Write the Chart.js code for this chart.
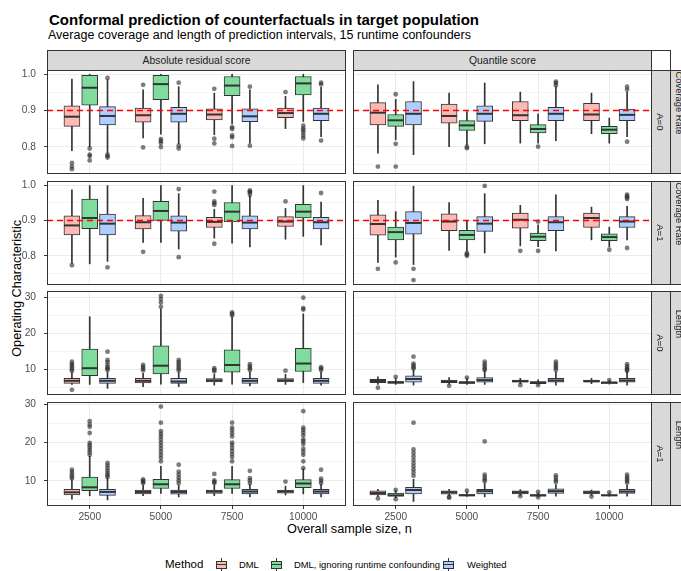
<!DOCTYPE html>
<html>
<head>
<meta charset="utf-8">
<script src="https://cdn.jsdelivr.net/npm/chart.js@4.4.0/dist/chart.umd.min.js"></script>
<style>
body{margin:0;width:681px;height:571px;overflow:hidden;background:#fff;position:relative;font-family:"Liberation Sans",Arial,sans-serif;color:#000}
canvas{position:absolute}
.txt{position:absolute;white-space:nowrap;line-height:1}
.strip{position:absolute;box-sizing:border-box;background:#D9D9D9;border:1px solid #333;color:#1A1A1A;font-size:10.4px;display:flex;align-items:center;justify-content:center;white-space:nowrap;overflow:hidden}
.rot{transform:rotate(90deg);line-height:1}
.key{position:absolute;width:11px;height:14px}
.key .w{position:absolute;left:5px;width:1px;height:14px;top:0;background:#333}
.key .b{position:absolute;left:0;top:3px;width:11px;height:8px;box-sizing:border-box;border:1px solid #333}
.key .m{position:absolute;left:0;top:6.5px;width:11px;height:1px;background:#333}
</style>
</head>
<body>
<div class="txt" style="left:49px;top:11.8px;font-size:15px;font-weight:bold">Conformal prediction of counterfactuals in target population</div>
<div class="txt" style="left:48px;top:28.5px;font-size:12.5px">Average coverage and length of prediction intervals, 15 runtime confounders</div>

<div class="strip" style="left:47px;top:50px;width:299px;height:21px">Absolute residual score</div>
<div class="strip" style="left:353px;top:50px;width:299px;height:21px">Quantile score</div>
<div style="position:absolute;left:651px;top:50px;width:20px;height:21px;box-sizing:border-box;border:1px solid #333"></div>

<div class="txt" style="left:-53px;top:281.6px;width:140px;text-align:center;font-size:12.7px;transform:rotate(-90deg)">Operating Characteristic</div>
<div class="txt" style="left:249.5px;top:522.8px;width:200px;text-align:center;font-size:12.7px">Overall sample size, n</div>

<div id="legend"></div>

<script>
// sample sizes on the x axis
const sampleSizes = ['2500', '5000', '7500', '10000'];
const methods = ['DML', 'DML, ignoring runtime confounding', 'Weighted'];
const targetCoverage = 0.9;

// each row: [lower whisker, Q1, median, Q3, upper whisker] for n = 2500, 5000, 7500, 10000
// order of blocks: DML, DML ignoring runtime confounding, Weighted

// Coverage Rate, A=0, absolute residual score
const covA0Abs = [
  [[0.789, 0.856, 0.883, 0.913, 0.987], [0.824, 0.868, 0.887, 0.907, 0.957], [0.833, 0.874, 0.889, 0.905, 0.948], [0.850, 0.880, 0.893, 0.907, 0.939]],
  [[0.800, 0.915, 0.963, 0.997, 1.000], [0.835, 0.930, 0.973, 0.997, 1.000], [0.863, 0.941, 0.969, 0.994, 1.000], [0.870, 0.943, 0.975, 0.994, 1.000]],
  [[0.782, 0.860, 0.885, 0.911, 0.985], [0.808, 0.868, 0.891, 0.909, 0.966], [0.810, 0.869, 0.884, 0.905, 0.957], [0.828, 0.872, 0.891, 0.907, 0.964]]
];
const covA0AbsOut = [
  [[0.755, 0.745, 0.738], [0.971, 0.798], [0.960, 0.822, 0.809], [0.951]],
  [[0.795, 0.778, 0.774, 0.762], [0.821, 0.816, 0.810, 0.799], [0.854, 0.849, 0.831, 0.826, 0.802], [0.858, 0.850, 0.845, 0.838, 0.830, 0.823]],
  [[0.990, 0.778, 0.774, 0.770], [0.977, 0.803, 0.795], [0.966, 0.803], [0.977, 0.972, 0.817]]
];

// Coverage Rate, A=0, quantile score
const covA0Qnt = [
  [[0.782, 0.860, 0.894, 0.922, 0.971], [0.800, 0.865, 0.885, 0.918, 0.948], [0.810, 0.872, 0.887, 0.925, 0.951], [0.836, 0.872, 0.889, 0.920, 0.948]],
  [[0.819, 0.856, 0.873, 0.889, 0.931], [0.805, 0.845, 0.859, 0.872, 0.897], [0.810, 0.838, 0.849, 0.861, 0.891], [0.810, 0.836, 0.847, 0.856, 0.879]],
  [[0.778, 0.860, 0.891, 0.925, 0.980], [0.808, 0.870, 0.891, 0.913, 0.976], [0.817, 0.872, 0.891, 0.909, 0.966], [0.828, 0.872, 0.888, 0.904, 0.952]]
];
const covA0QntOut = [
  [[0.745], [], [], []],
  [[0.945, 0.808, 0.745], [0.800, 0.796], [0.800], []],
  [[], [], [0.980, 0.976, 0.970], [0.966, 0.958, 0.814]]
];

// Coverage Rate, A=1, absolute residual score
const covA1Abs = [
  [[0.779, 0.859, 0.886, 0.913, 0.987], [0.838, 0.876, 0.895, 0.914, 0.963], [0.850, 0.880, 0.896, 0.909, 0.932], [0.847, 0.883, 0.897, 0.911, 0.934]],
  [[0.777, 0.877, 0.907, 0.961, 0.999], [0.838, 0.900, 0.927, 0.954, 0.999], [0.836, 0.896, 0.925, 0.951, 0.999], [0.855, 0.907, 0.925, 0.946, 0.999]],
  [[0.784, 0.859, 0.891, 0.918, 0.999], [0.819, 0.870, 0.894, 0.913, 0.976], [0.825, 0.876, 0.894, 0.913, 0.970], [0.831, 0.876, 0.895, 0.909, 0.952]]
];
const covA1AbsOut = [
  [[0.773], [0.811], [0.982, 0.954, 0.949, 0.944, 0.834], [0.954]],
  [[], [], [], []],
  [[0.767], [0.989, 0.796], [0.985, 0.982, 0.980, 0.973], [0.978]]
];

// Coverage Rate, A=1, quantile score
const covA1Qnt = [
  [[0.781, 0.858, 0.890, 0.916, 0.957], [0.815, 0.871, 0.897, 0.919, 0.951], [0.828, 0.878, 0.902, 0.921, 0.943], [0.845, 0.880, 0.907, 0.921, 0.938]],
  [[0.796, 0.845, 0.867, 0.881, 0.925], [0.812, 0.845, 0.859, 0.872, 0.900], [0.826, 0.843, 0.854, 0.864, 0.888], [0.825, 0.843, 0.853, 0.862, 0.881]],
  [[0.775, 0.861, 0.893, 0.925, 0.997], [0.808, 0.869, 0.891, 0.911, 0.976], [0.814, 0.871, 0.895, 0.911, 0.973], [0.845, 0.880, 0.897, 0.911, 0.940]]
];
const covA1QntOut = [
  [[0.763], [], [0.814], []],
  [[0.781], [0.807, 0.803, 0.800], [0.897, 0.814], [0.817]],
  [[0.763, 0.731], [0.998], [], [0.973, 0.969, 0.965, 0.961, 0.822]]
];

// Length, A=0, absolute residual score
const lenA0Abs = [
  [[5.8, 6.1, 6.8, 7.5, 9.0], [5.2, 6.2, 6.8, 7.5, 8.9], [5.6, 6.5, 6.9, 7.4, 8.6], [5.8, 6.5, 6.9, 7.4, 8.6]],
  [[5.8, 8.2, 10.3, 15.6, 24.6], [5.9, 8.7, 11.0, 16.5, 26.8], [5.9, 9.2, 11.2, 15.4, 24.6], [6.3, 9.4, 11.6, 15.8, 25.4]],
  [[4.7, 6.1, 6.8, 7.5, 9.2], [5.2, 6.1, 6.6, 7.5, 9.2], [5.4, 6.1, 6.8, 7.5, 9.2], [5.6, 6.1, 6.8, 7.5, 9.2]]
];
const lenA0AbsOut = [
  [[12.1, 11.5, 11.0, 10.5, 10.0, 9.5, 4.3], [11.2, 10.7, 10.2, 9.7], [10.3, 9.8, 9.4], [9.6]],
  [[], [30.4, 29.5, 28.6, 27.4], [25.8, 25.4, 25.0], [29.9, 27.0, 26.6]],
  [[14.9, 12.6, 12.0, 11.2, 10.6, 10.2, 9.8], [12.6, 12.0, 11.4, 10.8, 10.2, 9.7], [11.4, 10.8, 10.3, 9.8], [10.6, 10.2, 9.8]]
];

// Length, A=0, quantile score
const lenA0Qnt = [
  [[5.8, 6.3, 6.75, 7.2, 7.9], [5.9, 6.3, 6.6, 7.0, 7.7], [6.0, 6.4, 6.7, 7.0, 7.5], [6.0, 6.4, 6.7, 7.0, 7.5]],
  [[5.8, 6.1, 6.4, 6.6, 7.5], [5.8, 6.1, 6.3, 6.6, 7.5], [5.9, 6.0, 6.3, 6.6, 7.1], [5.9, 6.0, 6.3, 6.5, 6.9]],
  [[5.6, 6.4, 7.3, 8.2, 9.8], [5.8, 6.4, 7.0, 7.7, 9.5], [5.6, 6.4, 6.9, 7.5, 9.2], [5.6, 6.4, 6.9, 7.5, 9.2]]
];
const lenA0QntOut = [
  [[4.9], [5.4], [5.6], []],
  [[7.9], [7.7], [5.6], [7.0]],
  [[13.5, 11.6, 11.1, 10.6, 10.2], [12.1, 11.4, 10.8, 10.2, 9.8], [12.1, 11.5, 10.9, 10.4, 9.8], [11.4, 10.8, 10.3, 9.8, 9.6]]
];

// Length, A=1, absolute residual score
const lenA1Abs = [
  [[5.2, 6.3, 7.0, 7.8, 10.3], [6.1, 6.6, 7.1, 7.6, 8.9], [6.1, 6.7, 7.2, 7.6, 8.9], [6.3, 6.8, 7.2, 7.6, 8.6]],
  [[6.1, 7.4, 8.3, 11.0, 16.4], [6.7, 8.0, 9.1, 10.4, 13.8], [6.7, 8.0, 9.1, 10.3, 13.8], [6.6, 8.2, 9.3, 10.3, 13.1]],
  [[5.0, 6.2, 7.1, 7.8, 10.7], [5.8, 6.5, 7.1, 7.6, 8.9], [5.8, 6.6, 7.2, 7.8, 9.1], [5.8, 6.6, 7.2, 7.8, 9.1]]
];
const lenA1AbsOut = [
  [[12.9, 12.3, 11.7, 11.1, 10.7], [10.4, 10.0, 9.7, 9.4], [11.8, 10.1, 9.7, 9.4], [9.8]],
  [[25.6, 24.7, 24.1, 22.5, 19.9, 19.3, 18.7, 18.1, 17.5, 16.8],
   [29.4, 25.2, 23.0, 22.3, 21.6, 20.8, 20.0, 19.2, 18.4, 17.6, 16.8, 16.0, 15.1],
   [25.2, 23.9, 23.2, 22.4, 21.6, 20.0, 19.4, 18.6, 17.8, 17.0, 16.2, 15.1],
   [28.2, 23.9, 23.3, 22.6, 21.9, 20.8, 20.3, 19.6, 18.4, 17.6, 16.8, 15.1, 13.3]],
  [[14.7, 14.0, 13.3, 12.6, 12.0, 11.4, 11.0], [14.2, 12.4, 11.6, 10.8, 10.1, 9.4], [12.6, 10.7, 10.1, 9.4], [12.9, 10.6, 10.0, 9.4]]
];

// Length, A=1, quantile score
const lenA1Qnt = [
  [[5.9, 6.3, 6.8, 7.4, 7.8], [6.1, 6.5, 7.0, 7.4, 7.8], [6.2, 6.6, 7.0, 7.4, 7.7], [6.2, 6.6, 7.0, 7.4, 7.6]],
  [[5.6, 6.0, 6.2, 6.8, 7.4], [5.9, 6.1, 6.2, 6.5, 7.1], [5.9, 6.0, 6.2, 6.4, 6.8], [6.0, 6.1, 6.2, 6.4, 6.7]],
  [[4.6, 6.6, 7.6, 8.3, 10.4], [5.8, 6.6, 7.3, 7.8, 9.4], [6.0, 6.7, 7.3, 7.9, 9.0], [6.0, 6.7, 7.2, 7.8, 8.8]]
];
const lenA1QntOut = [
  [[5.4], [5.8, 5.6], [6.0], [5.9]],
  [[7.6, 5.2], [7.4], [5.7, 7.1], [7.0]],
  [[25.2, 18.2, 17.3, 16.4, 15.5, 14.6, 13.8, 13.0, 12.2, 11.3], [20.3, 11.6, 11.0, 10.4, 9.9], [11.4, 10.8, 10.2, 9.7], [11.6, 11.0, 10.5, 10.0, 9.5]]
];

// ---- layout ----
const xMin = -0.6, xMax = 3.6;
const rowTop = [70, 181, 291, 402];
const rowH = 104;
const padTop = 6;
const rowRange = [[0.7246, 1.012], [0.717, 1.012], [2.86, 31.75], [3.42, 30.6]];
const rowStrip = ['A=0', 'A=1', 'A=0', 'A=1'];
const rowOuter = ['Coverage Rate', 'Coverage Rate', 'Length', 'Length'];
const dodge = [-0.25, 0, 0.25];
const boxFill = ['#FBBAB6', '#80DC9C', '#B0CDFF'];
const dark = '#333333';
const font = {family: '"Liberation Sans", Arial, sans-serif', size: 10.2};

Chart.defaults.font.family = font.family;

const framePlugin = {
  id: 'frame',
  afterDraw(chart) {
    const {ctx, chartArea: a} = chart;
    ctx.save();
    ctx.strokeStyle = dark;
    ctx.lineWidth = 1;
    ctx.strokeRect(a.left + 0.5, a.top + 0.5, a.right - a.left - 1, a.bottom - a.top - 1);
    ctx.restore();
  }
};

function makePanel(box, out, row, col) {
  const isCov = row < 2;
  const yAxisW = col === 0 ? 47 : 0;
  const xAxisH = row === 3 ? 20 : 0;
  const canvas = document.createElement('canvas');
  canvas.width = 299 + yAxisW;
  canvas.height = padTop + rowH + xAxisH;
  canvas.style.left = (col === 0 ? 0 : 353) + 'px';
  canvas.style.top = (rowTop[row] - padTop) + 'px';
  document.body.appendChild(canvas);

  const isMajor = v => isCov ? Math.abs(v * 10 - Math.round(v * 10)) < 1e-6 : Math.abs(v % 10) < 1e-6;

  const datasets = [];
  box.forEach((rows, m) => {
    const xs = rows.map((r, i) => i + dodge[m]);
    // whiskers
    datasets.push({
      type: 'bar', order: 4, grouped: false,
      data: rows.map((r, i) => ({x: xs[i], y: [r[0], r[4]]})),
      backgroundColor: dark, borderWidth: 0, barThickness: 1, maxBarThickness: 1
    });
    // boxes
    datasets.push({
      type: 'bar', order: 3, grouped: false,
      data: rows.map((r, i) => ({x: xs[i], y: [r[1], r[3]]})),
      backgroundColor: boxFill[m], borderColor: dark, borderWidth: 1, borderSkipped: false,
      barThickness: 16, maxBarThickness: 16
    });
    // medians
    datasets.push({
      type: 'line', order: 2, showLine: false,
      data: rows.map((r, i) => ({x: xs[i], y: r[2]})),
      pointStyle: 'line', pointRadius: 8, pointBorderColor: dark, pointBorderWidth: 2
    });
    // outliers
    const pts = [];
    out[m].forEach((vals, i) => vals.forEach(v => pts.push({x: xs[i], y: v})));
    datasets.push({
      type: 'line', order: 1, showLine: false, data: pts,
      pointRadius: 2.4, pointBackgroundColor: 'rgba(45,45,45,0.62)', pointBorderWidth: 0
    });
  });
  if (isCov) {
    datasets.push({
      type: 'line', order: 0,
      data: [{x: xMin, y: targetCoverage}, {x: xMax, y: targetCoverage}],
      borderColor: '#FF0000', borderWidth: 1.4, borderDash: [6, 4], pointRadius: 0
    });
  }

  new Chart(canvas, {
    type: 'bar',
    data: {datasets},
    options: {
      responsive: false, animation: false, events: [],
      layout: {padding: {top: padTop}, autoPadding: false},
      plugins: {legend: {display: false}, tooltip: {enabled: false}},
      scales: {
        x: {
          type: 'linear', min: xMin, max: xMax, offset: false,
          afterFit: s => { s.height = xAxisH; s.paddingLeft = 0; s.paddingRight = 0; },
          border: {display: false},
          grid: {color: '#EBEBEB', lineWidth: 1, offset: false, drawTicks: row === 3, tickLength: 3, tickColor: dark},
          ticks: {
            display: row === 3, stepSize: 1, includeBounds: false, autoSkip: false, maxRotation: 0,
            padding: 2, color: '#4D4D4D', font,
            callback: v => sampleSizes[v] !== undefined ? sampleSizes[v] : ''
          }
        },
        y: {
          type: 'linear', min: rowRange[row][0], max: rowRange[row][1],
          afterFit: s => { s.width = yAxisW; s.paddingTop = 0; s.paddingBottom = 0; },
          border: {display: false},
          grid: {
            color: c => isMajor(c.tick.value) ? '#EBEBEB' : '#F4F4F4',
            lineWidth: 1,
            drawTicks: col === 0, tickLength: 3,
            tickColor: c => isMajor(c.tick.value) ? dark : 'rgba(0,0,0,0)'
          },
          ticks: {
            display: col === 0, stepSize: isCov ? 0.05 : 5, includeBounds: false, autoSkip: false,
            padding: 8, color: '#4D4D4D', font,
            callback: v => isMajor(v) ? (isCov ? v.toFixed(1) : String(Math.round(v))) : ''
          }
        }
      }
    },
    plugins: [framePlugin]
  });
}

makePanel(covA0Abs, covA0AbsOut, 0, 0);
makePanel(covA0Qnt, covA0QntOut, 0, 1);
makePanel(covA1Abs, covA1AbsOut, 1, 0);
makePanel(covA1Qnt, covA1QntOut, 1, 1);
makePanel(lenA0Abs, lenA0AbsOut, 2, 0);
makePanel(lenA0Qnt, lenA0QntOut, 2, 1);
makePanel(lenA1Abs, lenA1AbsOut, 3, 0);
makePanel(lenA1Qnt, lenA1QntOut, 3, 1);

// facet strips on the right
rowTop.forEach((t, r) => {
  const inner = document.createElement('div');
  inner.className = 'strip';
  inner.style.cssText = `left:651px;top:${t}px;width:20px;height:${rowH}px;font-size:9.6px`;
  inner.innerHTML = `<span class="rot">${rowStrip[r]}</span>`;
  document.body.appendChild(inner);
  const outer = document.createElement('div');
  outer.className = 'strip';
  outer.style.cssText = `left:670px;top:${t}px;width:20px;height:${rowH}px;display:block;font-size:9.4px`;
  const cy = t + rowH / 2 - 19;
  outer.innerHTML = `<div style="position:absolute;left:${679 - 670 - 1 - 50}px;top:${cy - t - 1 - 5}px;width:100px;height:10px;line-height:10px;text-align:center;transform:rotate(90deg)">${rowOuter[r]}</div>`;
  document.body.appendChild(outer);
});

// legend
const legend = document.getElementById('legend');
const legendTitle = document.createElement('div');
legendTitle.className = 'txt';
legendTitle.style.cssText = 'left:165px;top:558.5px;font-size:11.5px';
legendTitle.textContent = 'Method';
legend.appendChild(legendTitle);
const keyX = [216, 271, 443];
const labelX = [239, 294, 467];
methods.forEach((name, m) => {
  const k = document.createElement('div');
  k.className = 'key';
  k.style.left = keyX[m] + 'px';
  k.style.top = '557.5px';
  k.innerHTML = `<div class="w"></div><div class="b" style="background:${boxFill[m]}"></div><div class="m"></div>`;
  legend.appendChild(k);
  const t = document.createElement('div');
  t.className = 'txt';
  t.style.cssText = `left:${labelX[m]}px;top:560.2px;font-size:9.4px`;
  t.textContent = name;
  legend.appendChild(t);
});
</script>
</body>
</html>
